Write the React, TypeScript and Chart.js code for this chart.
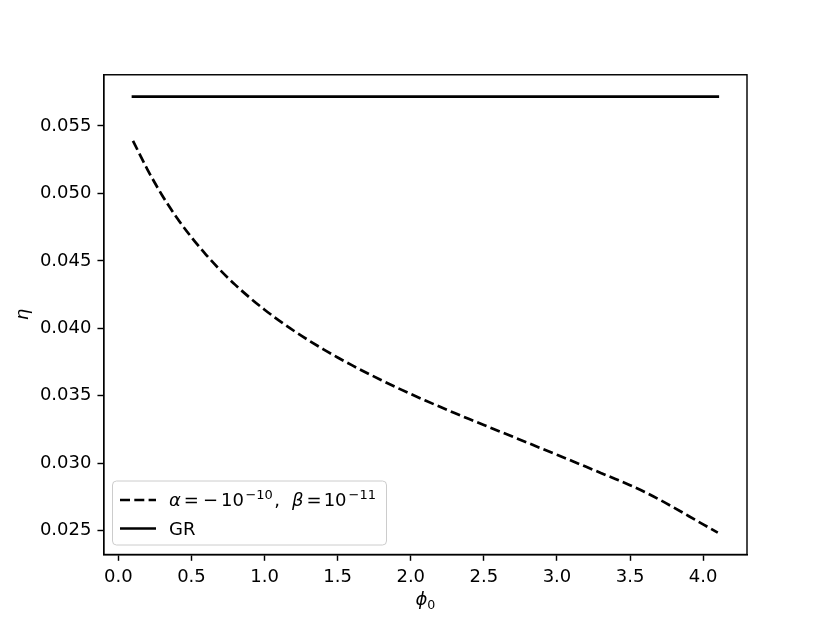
import React, { useEffect, useRef } from "react";
import { Chart, registerables } from "chart.js";

Chart.register(...registerables);

// ---- data ----
const phiValues = [
  0.1, 0.2, 0.3, 0.4, 0.5, 0.6, 0.7, 0.8, 0.9, 1.0,
  1.1, 1.2, 1.3, 1.4, 1.5, 1.6, 1.7, 1.8, 1.9, 2.0,
  2.1, 2.2, 2.3, 2.4, 2.5, 2.6, 2.7, 2.8, 2.9, 3.0,
  3.1, 3.2, 3.3, 3.4, 3.5, 3.6, 3.7, 3.8, 3.9, 4.0, 4.1,
];
const etaValues = [
  0.05390, 0.05175, 0.04985, 0.04820, 0.04675, 0.04545, 0.04428, 0.04322, 0.04226, 0.04138,
  0.04057, 0.03982, 0.03912, 0.03846, 0.03784, 0.03725, 0.03669, 0.03615, 0.03563, 0.03513,
  0.03465, 0.03418, 0.03372, 0.03327, 0.03283, 0.03239, 0.03195, 0.03151, 0.03107, 0.03063,
  0.03018, 0.02973, 0.02928, 0.02883, 0.02837, 0.02787, 0.02731, 0.02671, 0.02609, 0.02547, 0.02485,
];
const grPhi = [0.1, 4.1];
const grEta = [0.05718, 0.05718];

const xTickValues = [0.0, 0.5, 1.0, 1.5, 2.0, 2.5, 3.0, 3.5, 4.0];
const yTickValues = [0.025, 0.03, 0.035, 0.04, 0.045, 0.05, 0.055];

const grLabel = "GR";
const xTitleMain = "ϕ";
const xTitleSub = "0";
const yTitle = "η";

type Seg = { t: string; italic?: boolean; sup?: boolean; gap?: number };
const seriesLabelSegs: Seg[] = [
  { t: "α", italic: true },
  { t: "=", gap: 3 },
  { t: "−", gap: 4 },
  { t: "10", gap: 3 },
  { t: "−10", sup: true, gap: 1.5 },
  { t: ",", gap: 1.5 },
  { t: "β", italic: true, gap: 12 },
  { t: "=", gap: 3 },
  { t: "10", gap: 2 },
  { t: "−11", sup: true, gap: 2 },
];

const FONT = '"DejaVu Sans", "Liberation Sans", sans-serif';
const FS = 18;
const SUP = 13;
const LW = 2.7;
const DASH = [10, 4.3];

function drawSegs(ctx: CanvasRenderingContext2D, segs: Seg[], x: number, y: number) {
  let cx = x;
  for (const s of segs) {
    cx += s.gap || 0;
    const size = s.sup ? SUP : FS;
    ctx.font = `${s.italic ? "italic " : ""}${size}px ${FONT}`;
    ctx.fillText(s.t, cx, y - (s.sup ? 7 : 0));
    cx += ctx.measureText(s.t).width;
  }
}

const decorPlugin = {
  id: "decor",
  afterDatasetsDraw(chart: any) {
    const { ctx, chartArea } = chart;
    ctx.save();
    ctx.strokeStyle = "#000";
    ctx.lineWidth = 1.44;
    ctx.strokeRect(chartArea.left, chartArea.top, chartArea.right - chartArea.left, chartArea.bottom - chartArea.top);
    ctx.restore();
  },
  afterDraw(chart: any) {
    const { ctx, chartArea } = chart;
    ctx.save();
    ctx.fillStyle = "#000";
    ctx.textBaseline = "alphabetic";
    ctx.textAlign = "left";

    // x title  ϕ0
    const cxMid = (chartArea.left + chartArea.right) / 2;
    ctx.font = `italic ${FS}px ${FONT}`;
    const wMain = ctx.measureText(xTitleMain).width;
    ctx.font = `${12.6}px ${FONT}`;
    const wSub = ctx.measureText(xTitleSub).width;
    const startX = cxMid - (wMain + wSub) / 2;
    ctx.font = `italic ${FS}px ${FONT}`;
    ctx.fillText(xTitleMain, startX, 605);
    ctx.font = `${12.6}px ${FONT}`;
    ctx.fillText(xTitleSub, startX + wMain, 609);

    // y title η
    ctx.save();
    ctx.translate(28, (chartArea.top + chartArea.bottom) / 2);
    ctx.rotate(-Math.PI / 2);
    ctx.font = `italic ${FS}px ${FONT}`;
    ctx.textAlign = "center";
    ctx.fillText(yTitle, 0, 0);
    ctx.restore();

    // legend
    const bx = 112.5, by = 481, bw = 274, bh = 64, r = 4;
    ctx.beginPath();
    ctx.moveTo(bx + r, by);
    ctx.lineTo(bx + bw - r, by);
    ctx.arcTo(bx + bw, by, bx + bw, by + r, r);
    ctx.lineTo(bx + bw, by + bh - r);
    ctx.arcTo(bx + bw, by + bh, bx + bw - r, by + bh, r);
    ctx.lineTo(bx + r, by + bh);
    ctx.arcTo(bx, by + bh, bx, by + bh - r, r);
    ctx.lineTo(bx, by + r);
    ctx.arcTo(bx, by, bx + r, by, r);
    ctx.closePath();
    ctx.fillStyle = "rgba(255,255,255,0.8)";
    ctx.fill();
    ctx.strokeStyle = "#cccccc";
    ctx.lineWidth = 1;
    ctx.stroke();

    ctx.strokeStyle = "#000";
    ctx.lineWidth = LW;
    ctx.lineCap = "butt";
    ctx.setLineDash(DASH);
    ctx.beginPath();
    ctx.moveTo(120, 500);
    ctx.lineTo(156, 500);
    ctx.stroke();
    ctx.setLineDash([]);
    ctx.beginPath();
    ctx.moveTo(120, 528.5);
    ctx.lineTo(156, 528.5);
    ctx.stroke();

    ctx.fillStyle = "#000";
    drawSegs(ctx, seriesLabelSegs, 169, 505.5);
    ctx.font = `${FS}px ${FONT}`;
    ctx.fillText(grLabel, 169, 534.5);
    ctx.restore();
  },
};

export default function App() {
  const ref = useRef<HTMLCanvasElement | null>(null);

  useEffect(() => {
    document.body.style.margin = "0";
    if (!ref.current) return;
    const lo = Math.min(...etaValues, ...grEta);
    const hi = Math.max(...etaValues, ...grEta);
    const yPad = (hi - lo) * 0.05;
    const xlo = Math.min(...phiValues, ...grPhi);
    const xhi = Math.max(...phiValues, ...grPhi);
    const xPad = (xhi - xlo) * 0.05;

    const chart = new Chart(ref.current, {
      type: "line",
      data: {
        datasets: [
          {
            label: "alpha",
            data: phiValues.map((x, i) => ({ x, y: etaValues[i] })),
            borderColor: "#000",
            borderWidth: LW,
            borderDash: DASH,
            borderCapStyle: "butt",
            borderJoinStyle: "round",
            pointRadius: 0,
            cubicInterpolationMode: "monotone",
            fill: false,
          },
          {
            label: grLabel,
            data: grPhi.map((x, i) => ({ x, y: grEta[i] })),
            borderColor: "#000",
            borderWidth: LW,
            borderCapStyle: "square",
            pointRadius: 0,
            fill: false,
          },
        ],
      },
      options: {
        responsive: false,
        animation: false,
        devicePixelRatio: 1,
        layout: { padding: { top: 74.76, right: 83, left: 0, bottom: 0 } },
        plugins: { legend: { display: false }, tooltip: { enabled: false }, title: { display: false } },
        scales: {
          x: {
            type: "linear",
            min: xlo - xPad,
            max: xhi + xPad,
            afterFit: (s: any) => { s.height = 68.5; },
            afterBuildTicks: (s: any) => { s.ticks = xTickValues.map((v) => ({ value: v })); },
            grid: { display: true, drawOnChartArea: false, drawTicks: true, tickLength: 6.3, tickWidth: 1.44, tickColor: "#000" },
            border: { display: true, color: "#000", width: 1.44 },
            ticks: {
              color: "#000",
              font: { family: FONT, size: FS },
              padding: 6,
              maxRotation: 0,
              autoSkip: false,
              callback: (v: any) => Number(v).toFixed(1),
            },
          },
          y: {
            type: "linear",
            min: lo - yPad,
            max: hi + yPad,
            afterFit: (s: any) => { s.width = 103.75; },
            afterBuildTicks: (s: any) => { s.ticks = yTickValues.map((v) => ({ value: v })); },
            grid: { display: true, drawOnChartArea: false, drawTicks: true, tickLength: 6.3, tickWidth: 1.44, tickColor: "#000" },
            border: { display: true, color: "#000", width: 1.44 },
            ticks: {
              color: "#000",
              font: { family: FONT, size: FS },
              padding: 6,
              autoSkip: false,
              callback: (v: any) => Number(v).toFixed(3),
            },
          },
        },
      },
      plugins: [decorPlugin],
    } as any);
    return () => chart.destroy();
  }, []);

  return (
    <div style={{ position: "absolute", left: 0, top: 0, width: 830, height: 623, background: "#fff" }}>
      <canvas ref={ref} width={830} height={623} style={{ width: 830, height: 623, display: "block" }} />
    </div>
  );
}
